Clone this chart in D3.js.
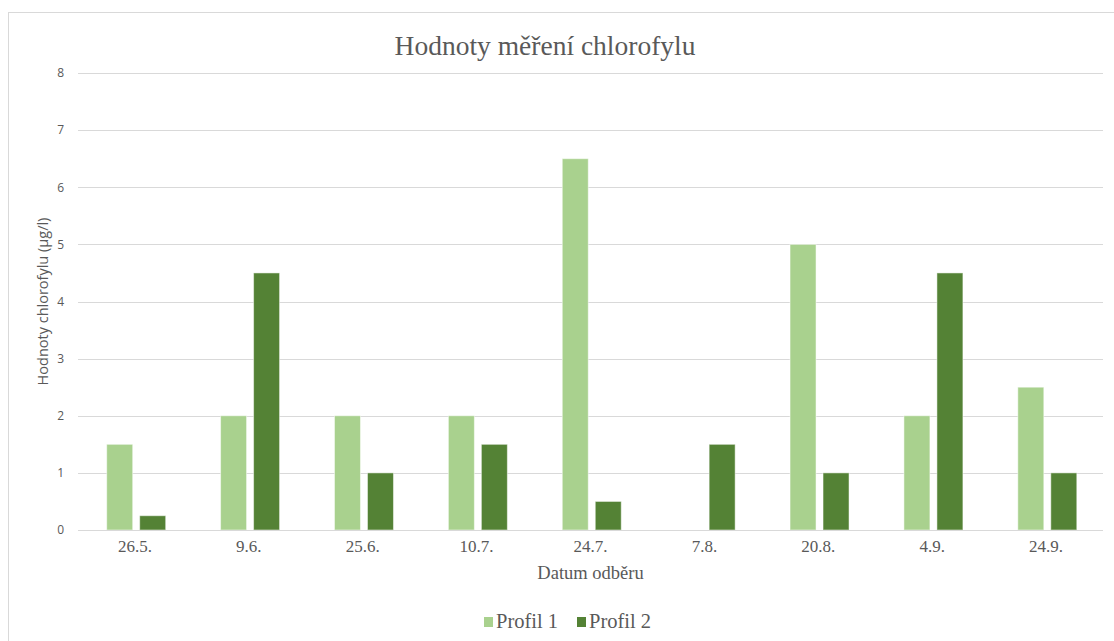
<!DOCTYPE html>
<html>
<head>
<meta charset="utf-8">
<script src="https://cdn.jsdelivr.net/npm/d3@7"></script>
<style>
  html, body { margin: 0; padding: 0; background: #fff; }
  svg { display: block; }
</style>
</head>
<body>
<svg id="chart" width="1114" height="641"></svg>
<script>
// Sampling dates and chlorophyll readings (µg/l) for the two profiles
const categories = ["26.5.", "9.6.", "25.6.", "10.7.", "24.7.", "7.8.", "20.8.", "4.9.", "24.9."];
const seriesNames = ["Profil 1", "Profil 2"];
const profil1 = [1.5, 2, 2, 2, 6.5, 0, 5, 2, 2.5];
const profil2 = [0.25, 4.5, 1, 1.5, 0.5, 1.5, 1, 4.5, 1];
const yTicks = [0, 1, 2, 3, 4, 5, 6, 7, 8];
const colors = ["#A9D18E", "#548235"];

const seriesValues = [profil1, profil2];
const rows = categories.map((c, i) => ({
  cat: c,
  vals: seriesNames.map((s, j) => ({ key: s, value: seriesValues[j][i], idx: j }))
}));

const svg = d3.select("#chart");
const W = 1114, H = 641;
const plot = { left: 78, right: 1103, top: 73, bottom: 530 };
const serif = "'Liberation Serif', 'Times New Roman', serif";
const sans = "'Open Sans', 'Liberation Sans', sans-serif";

// Outer chart frame
svg.append("rect")
  .attr("x", 8.5).attr("y", 12.5)
  .attr("width", W + 20).attr("height", H + 20)
  .attr("fill", "#fff").attr("stroke", "#d9d9d9").attr("stroke-width", 1);

const x = d3.scaleBand().domain(categories).range([plot.left, plot.right]).padding(0);
const bw = x.bandwidth();
const x1 = d3.scaleBand().domain(seriesNames)
  .range([bw * 0.252, bw * 0.77]).paddingInner(0.212).paddingOuter(0);
const y = d3.scaleLinear().domain([0, 8]).range([plot.bottom, plot.top]);

// Horizontal gridlines
svg.append("g")
  .selectAll("line")
  .data(yTicks)
  .join("line")
  .attr("x1", plot.left).attr("x2", plot.right)
  .attr("y1", d => Math.round(y(d)) + 0.5).attr("y2", d => Math.round(y(d)) + 0.5)
  .attr("stroke", "#d9d9d9").attr("stroke-width", 1);

// Y axis tick labels
const yAxis = d3.axisLeft(y).tickValues(yTicks).tickSize(0).tickPadding(0).tickFormat(d3.format("d"));
const gy = svg.append("g").attr("transform", `translate(${plot.left - 14},0)`).call(yAxis);
gy.select(".domain").remove();
gy.selectAll("text")
  .attr("font-family", sans)
  .attr("font-size", 12).attr("fill", "#595959");

// Bars
const groups = svg.append("g")
  .selectAll("g")
  .data(rows)
  .join("g")
  .attr("transform", d => `translate(${x(d.cat)},0)`);

groups.selectAll("rect")
  .data(d => d.vals.filter(v => v.value > 0))
  .join("rect")
  .attr("x", d => x1(d.key))
  .attr("width", x1.bandwidth())
  .attr("y", d => y(d.value))
  .attr("height", d => y(0) - y(d.value))
  .attr("fill", d => colors[d.idx])
  .attr("stroke", "#ffffff").attr("stroke-opacity", 0.5).attr("stroke-width", 1);

// X axis baseline and labels
const xAxis = d3.axisBottom(x).tickSize(0).tickPadding(10);
const gx = svg.append("g").attr("transform", `translate(0,${plot.bottom})`).call(xAxis);
gx.select(".domain").attr("stroke", "#d9d9d9").attr("d", `M${plot.left},0.5H${plot.right}`);
gx.selectAll("text")
  .attr("font-family", serif)
  .attr("font-size", 17).attr("fill", "#595959");

// Title
svg.append("text")
  .attr("x", 545).attr("y", 55)
  .attr("text-anchor", "middle")
  .attr("font-family", serif)
  .attr("font-size", 27.5).attr("fill", "#595959")
  .text("Hodnoty měření chlorofylu");

// Axis titles
svg.append("text")
  .attr("x", (plot.left + plot.right) / 2).attr("y", 579)
  .attr("text-anchor", "middle")
  .attr("font-family", serif)
  .attr("font-size", 18.5).attr("fill", "#595959")
  .text("Datum odběru");

svg.append("text")
  .attr("transform", `translate(48,${(plot.top + plot.bottom) / 2}) rotate(-90)`)
  .attr("text-anchor", "middle")
  .attr("font-family", sans)
  .attr("font-size", 14.5).attr("fill", "#595959")
  .text("Hodnoty chlorofylu (µg/l)");

// Legend
const legend = svg.append("g").attr("transform", "translate(484,622)");
const legendOffsets = [0, 93];
seriesNames.forEach((s, i) => {
  const g = legend.append("g").attr("transform", `translate(${legendOffsets[i]},0)`);
  g.append("rect").attr("x", 0).attr("y", -5).attr("width", 9).attr("height", 10).attr("fill", colors[i]);
  g.append("text").attr("x", 12).attr("y", 6)
    .attr("font-family", serif)
    .attr("font-size", 20.5).attr("fill", "#595959")
    .text(s);
});
</script>
</body>
</html>
